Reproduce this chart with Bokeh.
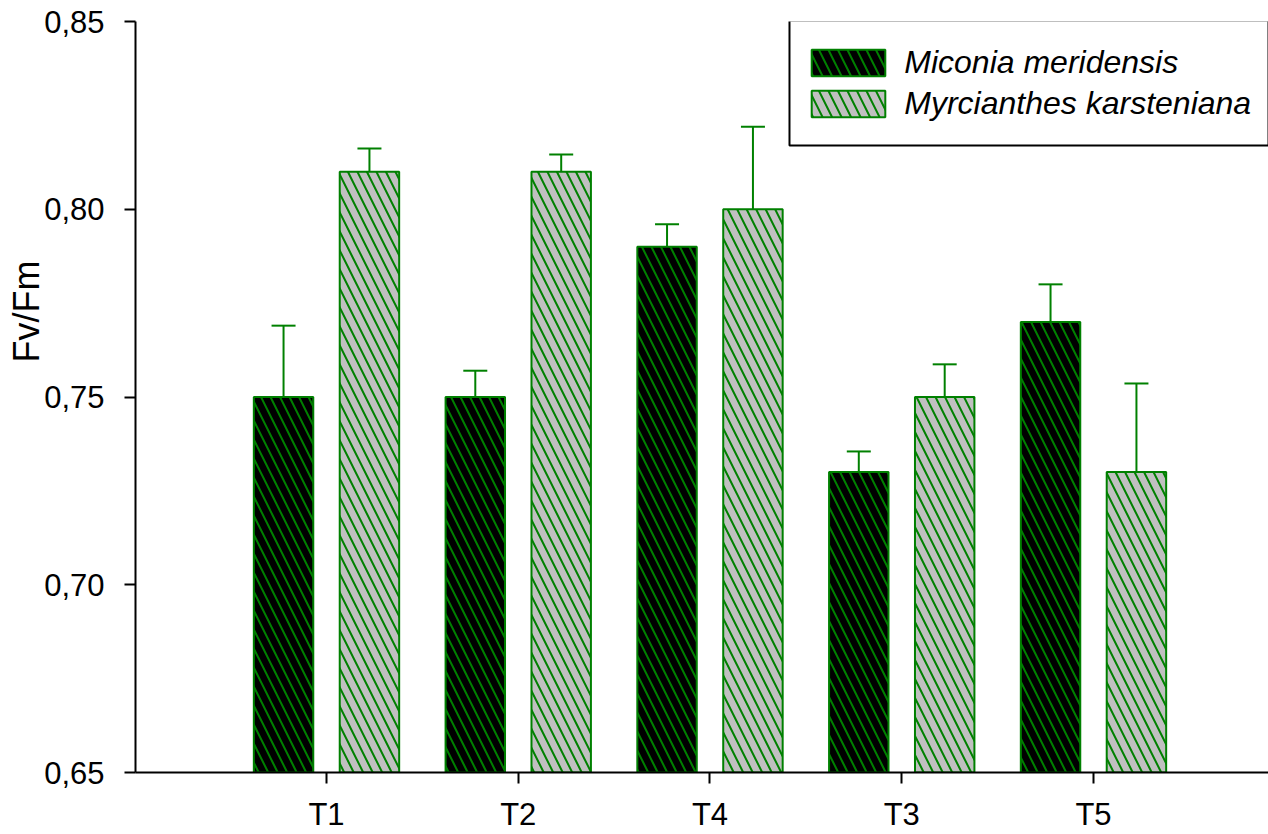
from bokeh.plotting import figure
from bokeh.models import (ColumnDataSource, Range1d, FixedTicker, CustomJSTickFormatter,
                          Whisker, TeeHead, Legend, LegendItem, Title, BoxAnnotation)
from bokeh.embed import file_html
from bokeh.resources import INLINE

# ---- data ----
categories = ["T1", "T2", "T4", "T3", "T5"]
miconia_mean = [0.75, 0.75, 0.79, 0.73, 0.77]
miconia_err = [0.019, 0.007, 0.006, 0.0055, 0.010]
myrci_mean = [0.81, 0.81, 0.80, 0.75, 0.73]
myrci_err = [0.0062, 0.0046, 0.022, 0.0087, 0.0236]
series_names = ["Miconia meridensis", "Myrcianthes karsteniana"]
y_ticks = [0.65, 0.70, 0.75, 0.80, 0.85]
y_label = "Fv/Fm"

FONT = "Liberation Sans"
GREEN = "#008000"
OFFSET = 0.224
BAR_W = 0.31
HATCH = dict(hatch_pattern="\\", hatch_color=GREEN, hatch_weight=2, hatch_scale=19)

X0, X1 = 0.0039, 5.9127
Y0, Y1 = 0.65, 0.85

pos = list(range(1, len(categories) + 1))

src_a = ColumnDataSource(dict(
    x=[p_ - OFFSET for p_ in pos], top=miconia_mean,
    upper=[m + e for m, e in zip(miconia_mean, miconia_err)]))
src_b = ColumnDataSource(dict(
    x=[p_ + OFFSET for p_ in pos], top=myrci_mean,
    upper=[m + e for m, e in zip(myrci_mean, myrci_err)]))

p = figure(width=1268, height=834, output_backend="svg", toolbar_location=None,
           x_range=Range1d(X0, X1), y_range=Range1d(Y0, Y1),
           min_border_left=135, min_border_top=21, min_border_bottom=62, min_border_right=0)
p.outline_line_color = None
p.xgrid.visible = False
p.ygrid.visible = False
p.background_fill_color = "white"
p.border_fill_color = "white"

r_a = p.vbar(x="x", top="top", bottom=Y0, width=BAR_W, source=src_a,
             fill_color="black", line_color=GREEN, line_width=2, **HATCH)
r_b = p.vbar(x="x", top="top", bottom=Y0, width=BAR_W, source=src_b,
             fill_color="#c0c0c0", line_color=GREEN, line_width=2, **HATCH)

for src in (src_a, src_b):
    w = Whisker(source=src, base="x", upper="upper", lower="top",
                line_color=GREEN, line_width=2,
                upper_head=TeeHead(size=24, line_color=GREEN, line_width=2),
                lower_head=None)
    p.add_layout(w)

# axes
for ax in (p.xaxis[0], p.yaxis[0]):
    ax.axis_line_width = 2
    ax.axis_line_color = "black"
    ax.major_tick_line_width = 2
    ax.major_tick_line_color = "black"
    ax.major_tick_out = 11
    ax.major_tick_in = 0
    ax.minor_tick_line_color = None
    ax.major_label_text_font = FONT
    ax.major_label_text_font_size = "31px"
    ax.major_label_text_color = "black"

p.yaxis.ticker = FixedTicker(ticks=y_ticks)
p.yaxis.formatter = CustomJSTickFormatter(code="return tick.toFixed(2).replace('.', ',');")
p.yaxis.major_label_standoff = 20

p.xaxis.ticker = FixedTicker(ticks=pos)
p.xaxis.major_label_overrides = {i: c for i, c in zip(pos, categories)}
p.xaxis.major_label_standoff = 13

# y-axis title (not centred on the axis in the reference)
ytitle = Title(text=y_label, align="right", offset=239, vertical_align="middle",
               standoff=-12, text_font=FONT, text_font_size="36px",
               text_font_style="normal", text_color="black")
p.add_layout(ytitle, "left")

# legend frame
box = BoxAnnotation(left=3.4146, bottom=0.81698, top=0.85027,
                    fill_color="white", fill_alpha=1.0,
                    line_color="black", line_width=2, line_alpha=1.0)
p.add_layout(box)

legend = Legend(items=[LegendItem(label=series_names[0], renderers=[r_a]),
                       LegendItem(label=series_names[1], renderers=[r_b])],
                location=(667.3, 648.5), padding=0, spacing=0, margin=0,
                glyph_width=92, glyph_height=33, label_standoff=10, label_height=41,
                label_text_font=FONT, label_text_font_size="32px",
                label_text_font_style="italic", label_text_color="black",
                border_line_color=None, background_fill_alpha=0.0)
p.add_layout(legend)

open("out.html", "w").write(file_html(p, INLINE))
